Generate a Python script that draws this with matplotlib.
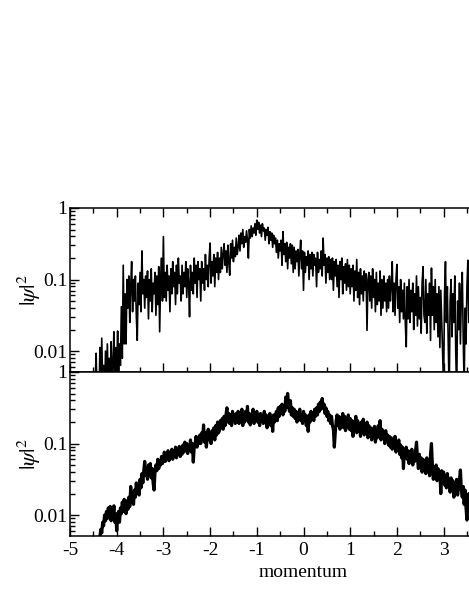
import numpy as np
import matplotlib
matplotlib.use("Agg")
import matplotlib.pyplot as plt
from matplotlib.ticker import LogLocator, NullFormatter, MultipleLocator, FixedLocator, FixedFormatter

plt.rcParams['font.family'] = ['Liberation Serif', 'DejaVu Serif']
plt.rcParams['mathtext.fontset'] = 'stix'
plt.rcParams['axes.unicode_minus'] = False

# momentum grid (start, step) of the sampled curves
x_start = -4.60
x_step = 0.02

# log10 |psi|^2, upper panel
top_log = [
    -2.8, -2.6, -2.9, -2.7, -2.5, -2.8, -2.6, -2.4, -2.03, -2.7, -2.3, -2.8, -1.95, -2.6, -1.82, -2.5, -2.2, -2.7, -2.0, -2.6,
    -1.9, -2.5, -2.1, -2.7, -1.87, -2.4, -2.2, -1.73, -2.6, -1.95, -2.3, -1.72, -2.5, -1.9, -2.2, -1.38, -2.1, -0.8, -1.9, -1.2,
    -1.9, -1.0, -1.4, -0.95, -1.6, -1.1, -0.75, -1.45, -1.0, -1.3, -0.95, -1.5, -1.85, -1.05, -1.35, -0.9, -1.45, -0.6, -1.2, -1.0,
    -1.4, -0.95, -1.25, -0.88, -1.55, -1.0, -1.3, -0.85, -1.45, -1.05, -1.2, -0.9, -1.5, -0.95, -1.35, -0.82, -1.73, -1.0, -0.7, -1.3,
    -0.4, -1.25, -0.9, -1.3, -0.8, -1.15, -0.95, -1.45, -0.85, -1.2, -0.75, -1.1, -0.9, -1.35, -0.8, -1.2, -0.7, -1.05, -0.95, -1.3,
    -0.8, -1.2, -0.9, -1.1, -0.75, -1.25, -0.85, -1.05, -1.52, -0.8, -1.15, -0.9, -1.2, -0.7, -1.05, -0.8, -1.25, -0.75, -1.0, -0.85,
    -1.3, -0.75, -1.05, -0.85, -1.15, -0.65, -1.0, -0.8, -1.1, -0.7, -0.49, -1.05, -0.75, -0.95, -0.65, -1.1, -0.7, -0.9, -0.62, -1.0,
    -0.7, -0.9, -0.55, -0.85, -0.65, -0.5, -0.8, -0.6, -0.9, -0.52, -0.75, -0.94, -0.5, -0.7, -0.45, -0.75, -0.55, -0.68, -0.42, -0.65,
    -0.55, -0.38, -0.6, -0.35, -0.5, -0.3, -0.55, -0.4, -0.48, -0.32, -0.45, -0.7, -0.3, -0.42, -0.25, -0.4, -0.28, -0.35, -0.22, -0.38,
    -0.17, -0.3, -0.2, -0.35, -0.24, -0.4, -0.22, -0.32, -0.28, -0.45, -0.3, -0.38, -0.27, -0.5, -0.33, -0.45, -0.35, -0.55, -0.38, -0.5,
    -0.42, -0.62, -0.45, -0.7, -0.5, -0.6, -0.45, -0.8, -0.33, -0.65, -0.5, -0.75, -0.48, -0.85, -0.55, -0.7, -0.5, -0.78, -0.52, -0.9,
    -0.55, -0.85, -0.6, -0.75, -0.58, -0.95, -0.65, -0.45, -0.85, -0.6, -1.15, -0.62, -0.9, -0.68, -0.8, -0.6, -1.0, -0.65, -0.85, -0.62,
    -0.95, -0.65, -0.8, -0.7, -1.1, -0.62, -0.9, -0.72, -0.85, -0.6, -0.95, -0.42, -0.8, -0.65, -1.05, -0.7, -0.9, -0.68, -1.0, -0.72,
    -1.0, -0.7, -1.15, -0.75, -0.95, -0.72, -1.1, -0.8, -1.25, -0.75, -1.0, -0.7, -1.2, -0.82, -1.05, -0.78, -1.15, -0.72, -1.1, -0.8,
    -1.2, -0.85, -1.1, -0.8, -1.3, -0.88, -1.15, -0.72, -1.25, -0.9, -1.35, -0.85, -1.2, -0.95, -1.3, -0.88, -1.15, -0.92, -1.71, -1.0,
    -0.9, -1.3, -0.95, -1.4, -0.85, -1.25, -1.0, -1.45, -0.9, -1.35, -1.05, -1.3, -0.88, -1.5, -1.0, -1.4, -0.95, -1.3, -1.05, -1.45,
    -1.0, -1.4, -0.95, -1.3, -1.1, -0.75, -1.45, -1.05, -1.5, -1.0, -0.79, -1.4, -1.1, -1.6, -1.0, -1.45, -1.15, -1.55, -1.05, -1.6,
    -1.94, -1.1, -1.55, -1.0, -1.6, -1.15, -1.45, -1.05, -1.7, -1.2, -1.5, -0.95, -1.65, -1.1, -1.55, -1.25, -1.75, -1.05, -0.82, -1.5,
    -1.6, -1.0, -1.75, -1.2, -1.5, -1.05, -1.85, -0.84, -1.5, -1.1, -1.7, -1.0, -1.6, -1.2, -1.8, -1.1, -1.95, -1.15, -1.6, -2.1,
    -2.5, -1.2, -0.75, -1.6, -1.1, -1.9, -2.6, -1.3, -1.0, -1.8, -1.2, -1.6, -0.95, -2.0, -2.6, -1.3, -1.7, -1.05, -1.9, -1.2,
    -0.9, -1.8, -2.5, -1.4, -1.9, -1.1, -0.73, -1.6, -1.2, -1.9, -1.4,
]

# log10 |psi|^2, lower panel
bottom_log = [
    -2.9, -2.85, -2.8, -2.75, -2.7, -2.65, -2.6, -2.55, -2.5, -2.45, -2.42, -2.36, -2.3, -2.2, -2.25, -2.1, -2.15, -2.0, -2.08, -1.95,
    -2.05, -1.9, -2.0, -1.88, -2.08, -1.93, -2.02, -1.87, -2.1, -1.98, -2.22, -2.05, -1.95, -2.1, -1.9, -1.98, -1.82, -1.95, -1.78, -1.9,
    -1.98, -1.8, -1.92, -1.75, -1.88, -1.6, -1.82, -1.7, -1.85, -1.65, -1.75, -1.55, -1.7, -1.6, -1.72, -1.5, -1.62, -1.42, -1.55, -1.38,
    -1.25, -1.45, -1.35, -1.5, -1.3, -1.42, -1.28, -1.48, -1.35, -1.55, -1.65, -1.4, -1.3, -1.38, -1.22, -1.35, -1.25, -1.3, -1.18, -1.28,
    -1.22, -1.12, -1.25, -1.15, -1.2, -1.1, -1.24, -1.13, -1.18, -1.08, -1.22, -1.12, -1.17, -1.05, -1.2, -1.1, -1.15, -1.04, -1.18, -1.08,
    -1.15, -1.02, -1.12, -0.98, -1.1, -1.0, -1.14, -1.05, -1.08, -0.95, -1.12, -1.0, -1.26, -1.05, -1.0, -0.9, -1.05, -0.95, -1.0, -0.88,
    -1.0, -0.85, -0.95, -0.74, -0.98, -0.85, -1.05, -0.9, -0.8, -0.95, -0.85, -1.0, -0.82, -0.92, -0.78, -0.95, -0.75, -0.88, -0.7, -0.85,
    -0.82, -0.68, -0.78, -0.65, -0.8, -0.62, -0.75, -0.6, -0.5, -0.7, -0.58, -0.72, -0.6, -0.75, -0.55, -0.68, -0.6, -0.72, -0.58, -0.7,
    -0.55, -0.72, -0.6, -0.68, -0.52, -0.75, -0.6, -0.7, -0.55, -0.66, -0.48, -0.7, -0.58, -0.74, -0.6, -0.68, -0.52, -0.72, -0.6, -0.65,
    -0.55, -0.7, -0.6, -0.75, -0.58, -0.68, -0.62, -0.72, -0.55, -0.7, -0.6, -0.78, -0.62, -0.7, -0.58, -0.75, -0.65, -0.83, -0.6, -0.7,
    -0.62, -0.55, -0.68, -0.5, -0.62, -0.48, -0.58, -0.45, -0.6, -0.5, -0.55, -0.35, -0.5, -0.3, -0.45, -0.55, -0.4, -0.6, -0.5, -0.62,
    -0.52, -0.65, -0.55, -0.7, -0.58, -0.62, -0.52, -0.68, -0.6, -0.72, -0.55, -0.65, -0.6, -0.75, -0.62, -0.83, -0.6, -0.7, -0.55, -0.65,
    -0.58, -0.68, -0.52, -0.62, -0.5, -0.6, -0.45, -0.55, -0.42, -0.52, -0.37, -0.5, -0.45, -0.58, -0.5, -0.62, -0.55, -0.68, -0.6, -0.72,
    -0.62, -0.75, -0.8, -1.05, -0.85, -0.68, -0.6, -0.75, -0.62, -0.8, -0.65, -0.72, -0.58, -0.78, -0.62, -0.82, -0.65, -0.75, -0.6, -0.8,
    -0.65, -0.82, -0.68, -0.9, -0.7, -0.78, -0.62, -0.85, -0.68, -0.8, -0.72, -0.9, -0.7, -0.82, -0.66, -0.88, -0.72, -0.85, -0.7, -0.92,
    -0.75, -0.9, -0.78, -0.95, -0.8, -0.88, -0.76, -0.98, -0.82, -0.92, -0.75, -0.88, -0.68, -0.95, -0.8, -0.9, -0.85, -1.0, -0.82, -0.95,
    -0.88, -1.02, -0.9, -1.05, -0.92, -1.08, -0.95, -1.0, -0.9, -1.12, -0.98, -1.08, -0.95, -1.15, -1.02, -1.2, -1.05, -1.35, -1.1, -1.18,
    -1.05, -1.22, -1.1, -1.28, -1.12, -1.2, -1.08, -1.3, -1.15, -1.25, -1.1, -0.98, -1.2, -1.35, -1.15, -1.3, -1.2, -1.4, -1.22, -1.35,
    -1.25, -1.42, -1.2, -1.38, -1.28, -1.45, -1.15, -1.0, -1.3, -1.5, -1.35, -1.45, -1.3, -1.52, -1.35, -1.48, -1.4, -1.7, -1.38, -1.5,
    -1.4, -1.58, -1.45, -1.62, -1.42, -1.55, -1.5, -1.68, -1.48, -1.62, -1.52, -1.75, -1.55, -1.68, -1.5, -1.72, -1.6, -1.5, -1.37, -1.65,
    -1.75, -1.6, -1.85, -1.65, -1.9, -2.07, -1.8, -1.7, -1.95, -1.75, -1.9,
]

x_ticks = [-5, -4, -3, -2, -1, 0, 1, 2, 3]
y_ticks = [0.01, 0.1, 1]
y_tick_labels = ["0.01", "0.1", "1"]
x_label = "momentum"
y_label = r"$|\psi|^2$"

x_top = x_start + x_step * np.arange(len(top_log))
x_bot = x_start + x_step * np.arange(len(bottom_log))
y_top = 10.0 ** np.array(top_log)
y_bot = 10.0 ** np.array(bottom_log)

W, H = 469, 607
fig = plt.figure(figsize=(W / 100, H / 100), dpi=100)

left = 70 / W
width = (537 - 70) / W
top_y1 = 1 - 208 / H
mid_y = 1 - 372 / H
bot_y0 = 1 - 536 / H

ax1 = fig.add_axes([left, mid_y, width, top_y1 - mid_y])
ax2 = fig.add_axes([left, bot_y0, width, mid_y - bot_y0])

for ax, xs, ys, lw in ((ax1, x_top, y_top, 1.2), (ax2, x_bot, y_bot, 2.3)):
    ax.plot(xs, ys, color='black', lw=lw)
    ax.set_yscale('log')
    ax.set_xlim(-5, 5)
    ax.set_ylim(0.0051, 1)
    ax.xaxis.set_major_locator(FixedLocator(x_ticks))
    ax.xaxis.set_minor_locator(MultipleLocator(0.5))
    ax.yaxis.set_major_locator(FixedLocator(y_ticks))
    ax.yaxis.set_major_formatter(FixedFormatter(y_tick_labels))
    ax.yaxis.set_minor_locator(LogLocator(base=10, subs=np.arange(2, 10)))
    ax.yaxis.set_minor_formatter(NullFormatter())
    for s in ax.spines.values():
        s.set_linewidth(1.1)
    ax.tick_params(which='major', direction='in', length=6.5, width=1.0,
                   labelsize=14, pad=2)
    ax.tick_params(which='minor', direction='in', length=3.3, width=1.0)
    ax.set_ylabel(y_label, fontsize=16, labelpad=0)
    ax.yaxis.set_label_coords(-0.058, 0.5)

ax1.tick_params(axis='x', which='both', top=True, bottom=True, labelbottom=False)
ax2.tick_params(axis='x', which='both', top=False, bottom=True)
ax2.tick_params(axis='x', which='major', pad=4)
ax2.set_xlabel(x_label, fontsize=14, labelpad=4)

fig.savefig("out.png", dpi=100)
